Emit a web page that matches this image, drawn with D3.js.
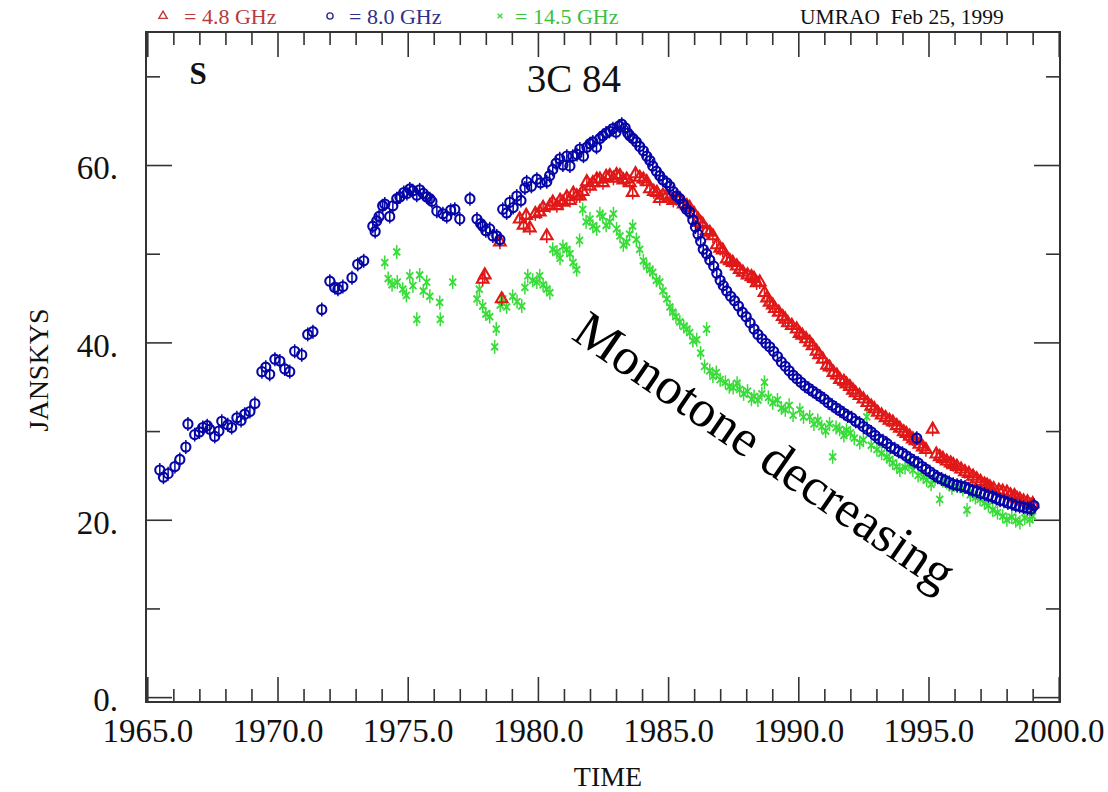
<!DOCTYPE html>
<html>
<head>
<meta charset="utf-8">
<script src="https://cdn.jsdelivr.net/npm/d3@7"></script>
<style>
  body { margin: 0; background: #fff; }
  text { font-family: "Liberation Serif", "DejaVu Serif", serif; }
</style>
</head>
<body>
<script>
// UMRAO light curve of 3C 84, three frequencies
// points: [year, janskys]

var flux48 = [
  [1977.88,47.1],[1977.96,47.6],[1978.54,51.3],[1978.61,44.9],[1979.30,53.9],[1979.45,53.2],[1979.55,54.3],
  [1979.69,52.9],[1979.90,54.5],[1980.07,54.7],[1980.20,55.2],[1980.34,52.0],[1980.46,55.4],[1980.57,55.8],
  [1980.73,55.4],[1980.85,56.0],[1980.96,55.8],[1981.11,56.4],[1981.23,56.0],[1981.36,56.8],[1981.49,56.5],
  [1981.61,56.5],[1981.72,57.0],[1981.88,58.1],[1982.00,57.6],[1982.11,58.0],[1982.26,58.4],[1982.38,58.4],
  [1982.50,58.0],[1982.62,58.7],[1982.76,58.8],[1982.90,58.5],[1983.02,58.9],[1983.15,58.8],[1983.28,58.3],
  [1983.41,58.4],[1983.53,58.0],[1983.64,56.9],[1983.75,59.0],[1983.91,58.6],[1984.05,58.4],[1984.18,58.1],
  [1984.30,57.3],[1984.45,57.0],[1984.57,56.9],[1984.68,56.2],[1984.80,56.6],[1984.95,56.5],[1985.07,56.4],
  [1985.20,56.0],[1985.32,56.2],[1985.45,56.2],[1985.60,55.6],[1985.72,55.4],[1985.83,55.2],[1986.00,54.5],
  [1986.15,53.9],[1986.25,53.5],[1986.33,53.3],[1986.48,52.6],[1986.60,52.4],[1986.72,52.0],[1986.87,51.0],
  [1987.00,50.6],[1987.10,50.4],[1987.25,49.4],[1987.37,49.2],[1987.48,49.0],[1987.64,48.6],[1987.75,48.2],
  [1987.87,47.9],[1988.05,47.6],[1988.20,47.4],[1988.30,47.2],[1988.40,46.7],[1988.52,46.8],[1988.70,45.6],
  [1988.80,45.0],[1988.90,44.5],[1989.02,44.2],[1989.10,43.8],[1989.25,43.4],[1989.40,42.9],[1989.50,42.6],
  [1989.60,42.2],[1989.75,41.9],[1989.94,41.5],[1990.05,41.0],[1990.15,40.8],[1990.30,40.4],[1990.44,40.0],
  [1990.55,39.6],[1990.70,39.0],[1990.80,38.6],[1990.94,38.1],[1991.10,37.4],[1991.20,37.2],[1991.35,36.6],
  [1991.48,36.3],[1991.60,35.8],[1991.75,35.6],[1991.85,35.3],[1991.98,35.0],[1992.10,34.6],[1992.20,34.3],
  [1992.35,34.0],[1992.50,33.6],[1992.65,33.2],[1992.80,32.8],[1992.92,32.5],[1993.05,32.1],[1993.20,31.8],
  [1993.35,31.5],[1993.50,31.2],[1993.63,31.0],[1993.78,30.6],[1993.90,30.3],[1994.05,29.9],[1994.15,29.7],
  [1994.28,29.4],[1994.40,29.1],[1994.50,28.9],[1994.65,28.5],[1994.78,28.2],[1994.90,27.9],[1995.16,30.2],
  [1995.30,27.4],[1995.43,27.1],[1995.55,26.9],[1995.70,26.6],[1995.85,26.4],[1995.95,26.2],[1996.09,26.0],
  [1996.25,25.7],[1996.40,25.4],[1996.55,25.2],[1996.71,24.9],[1996.85,24.6],[1997.00,24.3],[1997.15,24.0],
  [1997.25,23.9],[1997.36,23.7],[1997.50,23.5],[1997.70,23.3],[1997.85,23.2],[1998.01,23.1],[1998.15,22.8],
  [1998.30,22.7],[1998.40,22.4],[1998.51,22.3],[1998.65,22.1],[1998.80,22.0],[1998.90,21.6],[1999.00,21.8]
];

var flux80 = [
  [1965.48,25.6],[1965.62,24.8],[1965.80,25.2],[1966.06,26.0],[1966.25,26.8],[1966.48,28.2],[1966.56,30.8],
  [1966.82,29.6],[1967.00,29.9],[1967.13,30.4],[1967.30,30.6],[1967.40,30.2],[1967.59,29.4],[1967.75,30.0],
  [1967.86,31.1],[1968.09,30.7],[1968.24,30.4],[1968.44,31.5],[1968.60,31.2],[1968.74,31.9],[1968.94,32.2],
  [1969.13,33.1],[1969.40,36.7],[1969.55,37.2],[1969.70,36.4],[1969.90,38.1],[1970.09,37.9],[1970.28,37.0],
  [1970.47,36.7],[1970.66,39.0],[1970.93,38.6],[1971.16,40.9],[1971.36,41.2],[1971.70,43.7],[1972.01,46.9],
  [1972.20,46.2],[1972.32,46.0],[1972.51,46.3],[1972.86,47.3],[1973.08,48.8],[1973.31,49.2],[1973.66,53.1],
  [1973.75,52.5],[1973.81,53.7],[1973.90,54.2],[1974.04,55.4],[1974.12,55.6],[1974.31,54.2],[1974.43,55.4],
  [1974.58,56.2],[1974.70,56.4],[1974.85,56.9],[1974.97,56.8],[1975.08,57.3],[1975.20,57.1],[1975.35,56.6],
  [1975.46,57.2],[1975.60,56.8],[1975.73,56.4],[1975.85,56.2],[1975.93,55.9],[1976.12,54.8],[1976.35,54.5],
  [1976.50,54.2],[1976.65,54.9],[1976.81,55.0],[1977.00,53.9],[1977.39,56.2],[1977.66,53.9],[1977.80,53.4],
  [1977.88,53.1],[1978.00,52.6],[1978.15,52.8],[1978.27,52.0],[1978.42,52.0],[1978.54,51.6],
  [1978.65,55.0],[1978.80,54.6],[1978.92,55.8],[1979.05,55.2],[1979.19,56.5],[1979.35,56.0],[1979.50,57.4],
  [1979.57,58.1],[1979.75,57.6],[1979.96,58.4],[1980.10,58.0],[1980.34,58.1],[1980.45,58.8],[1980.57,59.5],
  [1980.70,60.2],[1980.84,60.7],[1980.96,60.0],[1981.11,61.0],[1981.23,59.9],[1981.34,61.0],[1981.50,61.2],
  [1981.61,61.8],[1981.75,61.0],[1981.88,62.0],[1982.00,62.4],[1982.11,62.6],[1982.25,62.0],[1982.38,63.0],
  [1982.49,63.3],[1982.62,63.6],[1982.75,63.8],[1982.88,64.1],[1983.00,63.7],[1983.12,64.4],[1983.22,64.6],
  [1983.35,64.2],[1983.45,63.6],[1983.53,63.3],[1983.65,63.0],[1983.78,62.6],[1983.91,62.1],[1984.05,61.6],
  [1984.18,61.0],[1984.30,60.5],[1984.41,59.9],[1984.55,59.3],[1984.68,58.8],[1984.80,58.3],[1984.95,58.0],
  [1985.07,57.6],[1985.20,57.0],[1985.32,56.5],[1985.45,56.2],[1985.58,55.6],[1985.70,55.0],[1985.83,54.7],
  [1985.95,53.8],[1986.05,53.0],[1986.15,52.2],[1986.25,51.4],[1986.35,50.5],[1986.48,50.0],[1986.60,49.3],
  [1986.75,48.6],[1986.87,47.8],[1987.00,47.0],[1987.12,46.4],[1987.25,45.8],[1987.40,45.2],[1987.55,44.7],
  [1987.70,44.1],[1987.85,43.4],[1988.00,42.9],[1988.15,42.2],[1988.30,41.5],[1988.45,40.9],[1988.60,40.4],
  [1988.75,39.9],[1988.90,39.5],[1989.05,39.0],[1989.20,38.4],[1989.35,37.8],[1989.50,37.3],[1989.65,36.8],
  [1989.80,36.3],[1989.95,35.9],[1990.10,35.5],[1990.25,35.1],[1990.40,34.8],[1990.55,34.5],[1990.70,34.2],
  [1990.85,33.9],[1991.00,33.6],[1991.15,33.2],[1991.30,32.9],[1991.45,32.6],[1991.60,32.3],[1991.75,32.0],
  [1991.90,31.7],[1992.05,31.5],[1992.20,31.1],[1992.35,30.9],[1992.50,30.5],[1992.65,30.2],[1992.80,29.9],
  [1992.95,29.5],[1993.10,29.1],[1993.25,28.9],[1993.40,28.6],[1993.55,28.2],[1993.70,28.0],[1993.85,27.7],
  [1994.00,27.5],[1994.15,27.2],[1994.30,26.9],[1994.45,26.6],[1994.55,29.2],[1994.60,26.4],[1994.75,26.0],
  [1994.90,25.7],[1995.05,25.4],[1995.20,25.1],[1995.35,24.8],[1995.50,24.6],[1995.65,24.4],[1995.80,24.2],
  [1995.95,24.0],[1996.10,23.9],[1996.25,23.8],[1996.40,23.7],[1996.55,23.5],[1996.70,23.3],[1996.85,23.2],
  [1997.00,23.0],[1997.15,22.9],[1997.30,22.7],[1997.45,22.6],[1997.60,22.4],[1997.75,22.2],[1997.90,22.1],
  [1998.05,21.9],[1998.20,21.8],[1998.35,21.6],[1998.50,21.5],[1998.65,21.4],[1998.80,21.3],[1998.95,21.2],
  [1999.05,21.6]
];

var flux145 = [
  [1974.12,49.0],[1974.25,47.2],[1974.40,46.5],[1974.58,50.2],[1974.60,46.8],[1974.81,46.0],[1974.95,45.3],
  [1975.08,47.5],[1975.20,46.4],[1975.35,42.6],[1975.46,47.6],[1975.60,45.8],[1975.73,46.8],[1975.85,45.2],
  [1976.23,44.5],[1976.25,42.6],[1976.73,46.8],[1977.66,44.9],[1977.75,46.0],[1977.88,44.1],[1978.00,43.2],
  [1978.15,42.9],[1978.34,39.5],[1978.40,41.5],[1978.55,44.2],[1978.65,44.9],[1978.80,44.0],[1979.03,45.2],
  [1979.20,44.6],[1979.38,44.1],[1979.50,46.2],[1979.61,47.5],[1979.80,47.0],[1979.96,46.8],[1980.07,47.5],
  [1980.20,46.5],[1980.34,46.0],[1980.46,45.6],[1980.57,50.5],[1980.73,50.2],[1980.85,49.5],[1980.96,50.8],
  [1981.11,50.5],[1981.23,50.0],[1981.35,49.0],[1981.49,48.2],[1981.60,51.5],[1981.72,55.0],[1981.85,53.6],
  [1982.00,53.9],[1982.11,53.1],[1982.26,52.8],[1982.38,54.5],[1982.49,54.2],[1982.62,53.2],[1982.76,53.6],
  [1982.90,54.5],[1983.02,52.8],[1983.15,52.0],[1983.28,51.0],[1983.41,51.3],[1983.52,52.2],[1983.64,53.1],
  [1983.78,51.6],[1983.91,50.5],[1984.05,49.2],[1984.18,48.6],[1984.30,48.2],[1984.41,47.9],[1984.55,47.0],
  [1984.68,46.8],[1984.80,45.8],[1984.95,44.9],[1985.07,44.0],[1985.18,43.4],[1985.30,42.9],[1985.45,42.3],
  [1985.60,41.8],[1985.72,41.5],[1985.83,41.1],[1985.95,40.2],[1986.10,40.3],[1986.25,38.8],[1986.40,37.3],
  [1986.48,41.5],[1986.60,36.8],[1986.72,36.2],[1986.85,36.6],[1987.00,35.8],[1987.20,35.5],[1987.35,35.0],
  [1987.50,34.9],[1987.65,35.4],[1987.75,34.7],[1987.90,34.2],[1988.05,34.5],[1988.20,33.6],[1988.30,33.9],
  [1988.45,33.5],[1988.60,34.2],[1988.70,35.5],[1988.85,33.8],[1989.02,33.2],[1989.20,33.5],[1989.35,32.6],
  [1989.50,32.4],[1989.65,32.9],[1989.80,31.8],[1990.06,32.4],[1990.20,31.6],[1990.44,31.6],[1990.60,30.8],
  [1990.75,31.2],[1990.90,30.5],[1991.05,30.0],[1991.20,30.8],[1991.32,27.1],[1991.45,30.4],[1991.59,30.2],
  [1991.75,29.5],[1991.85,30.1],[1992.00,29.8],[1992.15,29.2],[1992.36,28.7],[1992.50,29.0],[1992.63,31.6],
  [1992.80,28.4],[1993.02,27.9],[1993.20,27.5],[1993.40,27.1],[1993.50,26.8],[1993.63,26.4],[1993.78,26.0],
  [1993.90,25.6],[1994.10,25.9],[1994.25,26.2],[1994.40,25.6],[1994.60,25.0],[1994.80,24.8],[1994.93,24.5],
  [1995.10,24.0],[1995.25,24.6],[1995.43,22.3],[1995.55,24.4],[1995.70,24.2],[1995.90,23.6],[1996.10,23.8],
  [1996.32,23.4],[1996.48,21.1],[1996.60,22.8],[1996.80,22.5],[1996.98,22.3],[1997.15,21.9],[1997.30,21.6],
  [1997.47,21.1],[1997.65,20.8],[1997.85,20.4],[1998.01,20.0],[1998.20,20.3],[1998.35,19.9],[1998.51,19.7],
  [1998.70,20.2],[1998.89,20.0],[1999.00,20.4]
];

var xTicks = [1965, 1970, 1975, 1980, 1985, 1990, 1995, 2000];
var yTicks = [0, 20, 40, 60];
var yMinor = [10, 30, 50, 70];
var xMinor = d3.range(1966, 2000).filter(function (d) { return d % 5 !== 0; });

var width = 1108;
var height = 792;
// frame edges (note: "top" is taken by window.top, so prefixed names)
var plotL = 146, plotR = 1060, plotT = 32, plotB = 702;

var red = "#e01818", blue = "#0606a8", green = "#38dc38";

var x = d3.scaleLinear().domain([1964.95, 2000.05]).range([plotL, plotR]);
var y = d3.scaleLinear().domain([-0.55, 75]).range([plotB, plotT]);

var svg = d3.select("body").append("svg")
    .attr("width", width)
    .attr("height", height);

svg.append("rect").attr("width", width).attr("height", height).attr("fill", "#fff");

// axes - ticks point inward on all four sides
function tickAxis(axis, tr, vals, len, fmt) {
    var g = svg.append("g").attr("transform", tr)
        .call(axis.tickValues(vals).tickSize(-len).tickFormat(fmt || ""));
    g.select(".domain").remove();
    g.selectAll("line").attr("stroke", "#333").attr("stroke-width", 1.6);
    return g;
}

var bx = tickAxis(d3.axisBottom(x).tickPadding(17), "translate(0," + plotB + ")", xTicks, 25,
    function (d) { return d.toFixed(1); });
tickAxis(d3.axisBottom(x), "translate(0," + plotB + ")", xMinor, 13);
tickAxis(d3.axisTop(x), "translate(0," + plotT + ")", xTicks, 25);
tickAxis(d3.axisTop(x), "translate(0," + plotT + ")", xMinor, 13);

var ly = tickAxis(d3.axisLeft(y).tickPadding(28), "translate(" + plotL + ",0)", yTicks, 26,
    function (d) { return d + "."; });
tickAxis(d3.axisLeft(y), "translate(" + plotL + ",0)", yMinor, 14);
tickAxis(d3.axisRight(y), "translate(" + plotR + ",0)", yTicks, 26);
tickAxis(d3.axisRight(y), "translate(" + plotR + ",0)", yMinor, 14);

bx.selectAll("text").attr("font-size", 33).attr("font-family", "Liberation Serif").attr("fill", "#111");
ly.selectAll("text").attr("font-size", 33).attr("font-family", "Liberation Serif").attr("fill", "#111")
    .attr("dy", "0.42em");

svg.append("rect")
    .attr("x", plotL).attr("y", plotT)
    .attr("width", plotR - plotL).attr("height", plotB - plotT)
    .attr("fill", "none").attr("stroke", "#333").attr("stroke-width", 2);

// markers
var xShape = {
    draw: function (ctx, size) {
        var r = Math.sqrt(size) / 2;
        ctx.moveTo(-r, -r); ctx.lineTo(r, r);
        ctx.moveTo(r, -r); ctx.lineTo(-r, r);
    }
};

function drawSeries(data, shape, size, color, sw) {
    var g = svg.append("g");
    var pts = g.selectAll("g").data(data).enter().append("g")
        .attr("transform", function (d) { return "translate(" + x(d[0]) + "," + y(d[1]) + ")"; });
    pts.append("line")
        .attr("y1", -7).attr("y2", 7)
        .attr("stroke", color).attr("stroke-width", 1.5);
    pts.append("path")
        .attr("d", d3.symbol().type(shape).size(size))
        .attr("fill", "none").attr("stroke", color).attr("stroke-width", sw);
}

drawSeries(flux145, xShape, 48, green, 1.9);
drawSeries(flux48, d3.symbolTriangle, 58, red, 2.1);
drawSeries(flux80, d3.symbolCircle, 66, blue, 2.1);

// labels
svg.append("text").attr("x", 38).attr("y", 370)
    .attr("transform", "rotate(-90,38,370)")
    .attr("text-anchor", "middle").attr("dominant-baseline", "central")
    .attr("font-size", 28).attr("fill", "#111").text("JANSKYS");

svg.append("text").attr("x", 608).attr("y", 786)
    .attr("text-anchor", "middle").attr("font-size", 28).attr("fill", "#111").text("TIME");

svg.append("text").attr("x", 574).attr("y", 92)
    .attr("text-anchor", "middle").attr("font-size", 39).attr("fill", "#111").text("3C 84");

svg.append("text").attr("x", 198).attr("y", 84)
    .attr("text-anchor", "middle").attr("font-size", 31).attr("font-weight", "bold")
    .attr("fill", "#111").text("S");

// legend row above the frame
var legend = [
    { shape: d3.symbolTriangle, size: 30, color: "#c83838", tcolor: "#b83a3a", sx: 163, tx: 184, label: "= 4.8 GHz" },
    { shape: d3.symbolCircle, size: 30, color: "#2a2a90", tcolor: "#303088", sx: 330, tx: 349, label: "= 8.0 GHz" },
    { shape: xShape, size: 22, color: green, tcolor: "#3cc03c", sx: 500, tx: 515, label: "= 14.5 GHz" }
];
legend.forEach(function (l) {
    svg.append("path")
        .attr("transform", "translate(" + l.sx + ",16)")
        .attr("d", d3.symbol().type(l.shape).size(l.size))
        .attr("fill", "none").attr("stroke", l.color).attr("stroke-width", 1.4);
    svg.append("text").attr("x", l.tx).attr("y", 24)
        .attr("font-size", 22).attr("fill", l.tcolor).text(l.label);
});

svg.append("text").attr("x", 800).attr("y", 24)
    .attr("font-size", 21.5).attr("fill", "#111").attr("xml:space", "preserve")
    .text("UMRAO  Feb 25, 1999");

// the annotation across the decline
svg.append("text")
    .attr("transform", "translate(570,338) rotate(34.5)")
    .attr("font-size", 52).attr("fill", "#000")
    .text("Monotone decreasing");
</script>
</body>
</html>
